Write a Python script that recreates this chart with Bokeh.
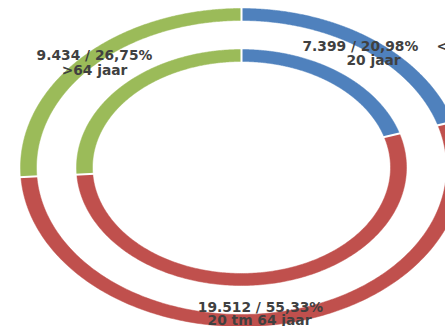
import numpy as np
from bokeh.plotting import figure
from bokeh.models import Range1d
from bokeh.core.properties import value
from bokeh.embed import file_html
from bokeh.resources import INLINE

# Age groups, counts and the stated share of each group
groups = ["<20 jaar", "20 tm 64 jaar", ">64 jaar"]
counts = [7399, 19512, 9434]
shares = [20.98, 55.33, 26.75]
colors = ["#4F81BD", "#C0504D", "#9BBB59"]

W, H = 445, 326
CX, CY = 241, 167
# (outer rx, outer ry, inner rx, inner ry) of each ring
rings = [(221, 159, 205, 147), (165, 118, 149, 106)]

p = figure(width=W, height=H, output_backend="svg", toolbar_location=None,
           x_range=Range1d(0, W), y_range=Range1d(H, 0), min_border=0)
p.axis.visible = False
p.grid.visible = False
p.outline_line_color = None
p.background_fill_color = "white"
p.border_fill_color = "white"

frac = np.array(counts, dtype=float) / sum(counts)
ends = np.cumsum(frac) * 2 * np.pi
starts = ends - frac * 2 * np.pi

xs, ys, fills = [], [], []
sx0, sy0, sx1, sy1 = [], [], [], []
for orx, ory, irx, iry in rings:
    for a0, a1, c in zip(starts, ends, colors):
        t = np.linspace(a0, a1, 240)
        ox = CX + orx * np.sin(t)
        oy = CY - ory * np.cos(t)
        ix = CX + irx * np.sin(t[::-1])
        iy = CY - iry * np.cos(t[::-1])
        xs.append(np.concatenate([ox, ix]).tolist())
        ys.append(np.concatenate([oy, iy]).tolist())
        fills.append(c)
        # white separator at the start of each slice
        sx0.append(CX + (irx - 2) * np.sin(a0))
        sy0.append(CY - (iry - 2) * np.cos(a0))
        sx1.append(CX + (orx + 2) * np.sin(a0))
        sy1.append(CY - (ory + 2) * np.cos(a0))

p.patches(xs, ys, fill_color=fills, line_color=fills, line_width=0.5)
p.segment(sx0, sy0, sx1, sy1, line_color="white", line_width=2)


def fmt_count(n):
    return f"{n:,}".replace(",", ".")


def fmt_share(s):
    return f"{s:.2f}".replace(".", ",") + "%"


first = [f"{fmt_count(n)} / {fmt_share(s)}" for n, s in zip(counts, shares)]

font = value("DejaVu Sans")
common = dict(text_font=font, text_font_size="13.8px", text_font_style="bold",
              text_color="#404040", text_baseline="alphabetic")

# <20 jaar (label wraps with the "<" on the first line)
p.text(x=[302], y=[45], text=[first[0]], text_align="left", **common)
p.text(x=[436], y=[45], text=[groups[0][0]], text_align="left", **common)
p.text(x=[373], y=[59], text=[groups[0][1:]], text_align="center", **common)

# 20 tm 64 jaar
p.text(x=[260, 259], y=[306, 319], text=[first[1], groups[1]],
       text_align="center", **common)

# >64 jaar
p.text(x=[94, 94], y=[54, 69], text=[first[2], groups[2]],
       text_align="center", **common)

open("out.html", "w").write(file_html(p, INLINE))
